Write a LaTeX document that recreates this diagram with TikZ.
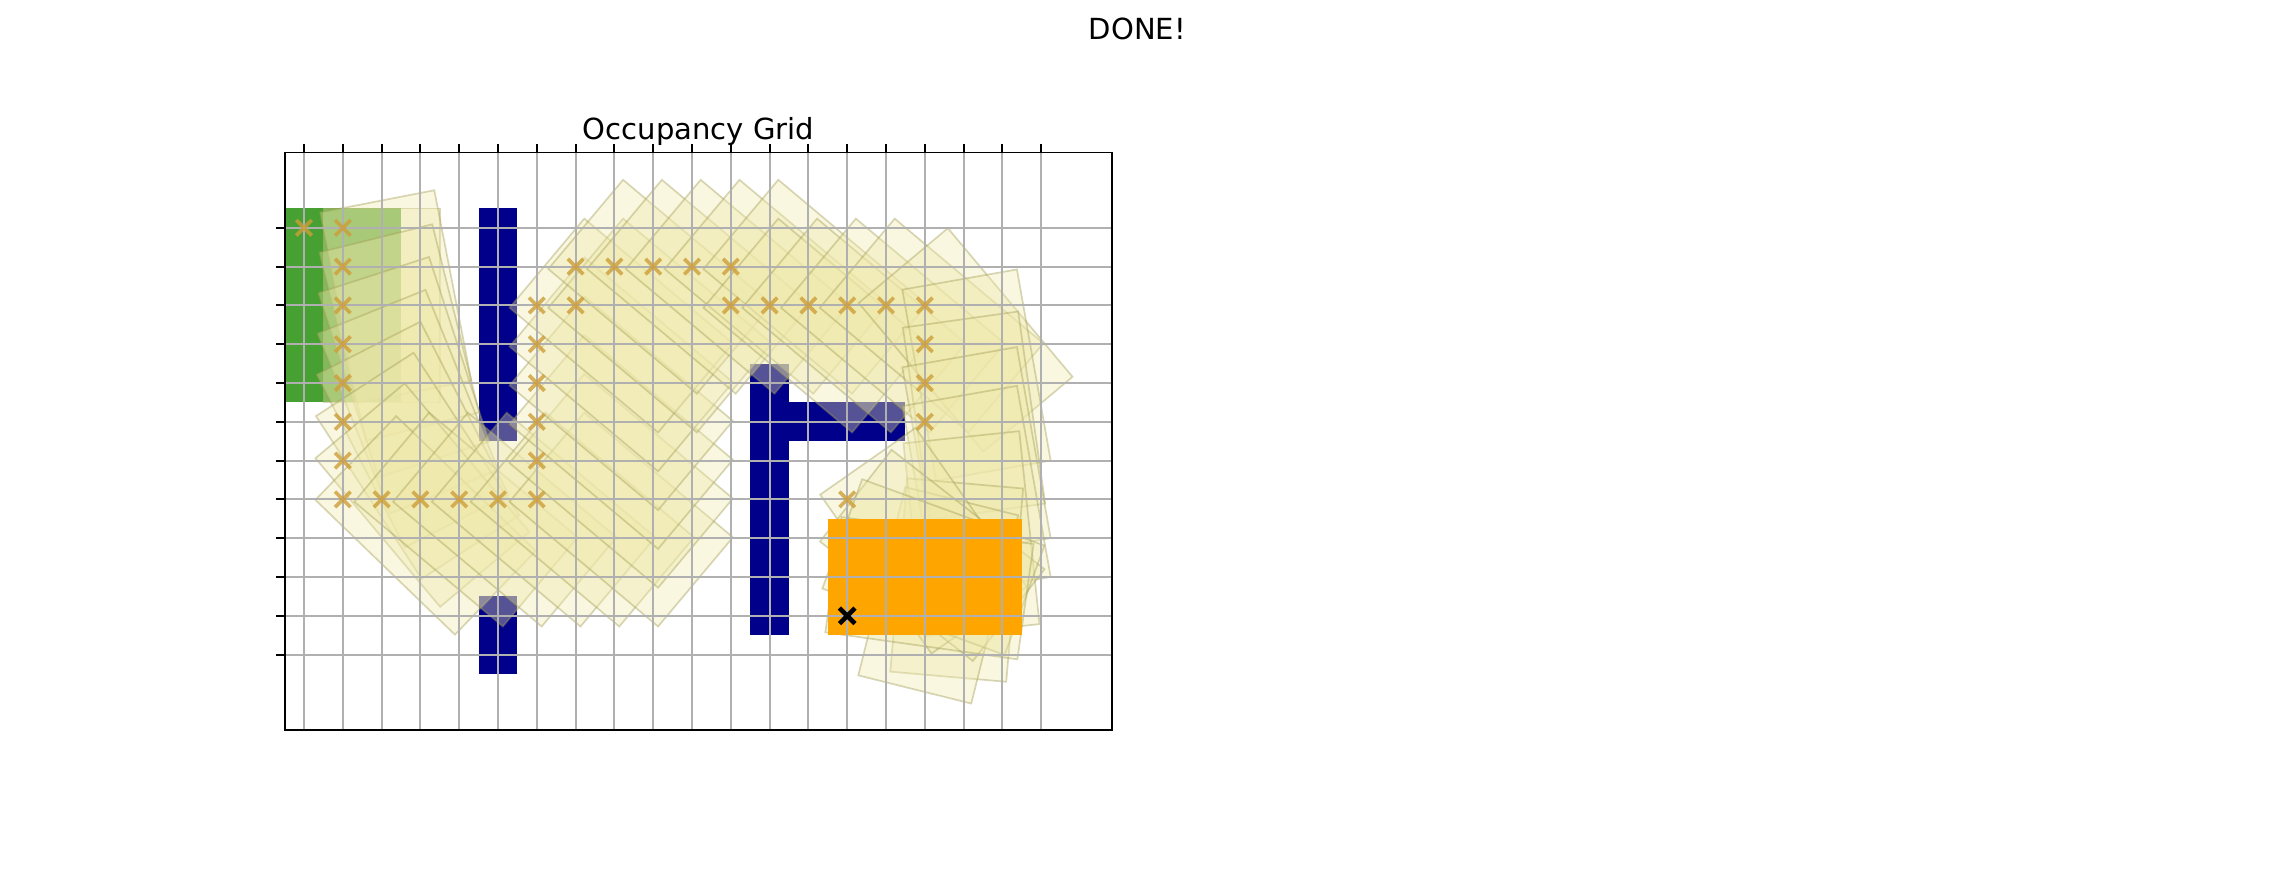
\documentclass[tikz,border=0pt]{standalone}
\usepackage{fontspec}
\setmainfont{DejaVu Sans}

\definecolor{wallblue}{RGB}{0,0,139}
\definecolor{startgreen}{RGB}{70,160,50}
\definecolor{goalorange}{RGB}{255,165,0}
\definecolor{footfill}{RGB}{238,232,170}
\definecolor{footedge}{RGB}{160,155,80}
\definecolor{pathgold}{RGB}{205,158,55}
\definecolor{gridgray}{RGB}{176,176,176}

\begin{document}
\begin{tikzpicture}[
    x=5.6315mm, y=5.6315mm,
    wall/.style={fill=wallblue},
    footprint/.style={fill=footfill,fill opacity=0.36,draw=footedge,draw opacity=0.4,line width=0.7pt},
    gridline/.style={gridgray,line width=0.8pt},
    tick/.style={black,line width=0.8pt},
    pathmark/.style={pathgold,opacity=0.8,line width=1.5pt},
    goalmark/.style={black,line width=1.9pt},
    label/.style={font=\fontsize{12}{14}\selectfont,anchor=base,inner sep=0pt},
]
\useasboundingbox (-7.835,-16.680) rectangle (50.799,5.871);

% === Titles ===
\node[label] (done) at (21.48,4.858) {DONE!};
\node[label] (title) at (10.165,2.281) {Occupancy Grid};

% === Obstacles ===
\fill[wall] (4.5,0.5) rectangle (5.5,-5.5);
\fill[wall] (4.5,-9.5) rectangle (5.5,-11.5);
\fill[wall] (11.5,-3.5) rectangle (12.5,-10.5);
\fill[wall] (12.5,-4.5) rectangle (15.5,-5.5);

% === Start pose ===
\fill[startgreen] (-0.5,0.5) rectangle (2.5,-4.5);

% === Robot footprints along the trajectory ===
\foreach \c/\r/\a in {
    1/0/-90, 1/0/-79, 1/1/-76, 1/2/-72, 1/3/-68, 1/4/-63, 1/5/-57, 1/6/-50, 1/7/-44,
    2/7/-40, 3/7/-40, 4/7/-40, 5/7/-40, 6/7/-40,
    6/6/-40, 6/5/-40, 6/4/-40, 6/3/-40, 6/2/-40,
    7/2/-40, 7/1/-40, 8/1/-40, 9/1/-40, 10/1/-40, 11/1/-40,
    11/2/-40, 12/2/-40, 13/2/-40, 14/2/-40, 15/2/-50, 16/2/-80,
    16/3/-82, 16/4/-80, 16/5/-80, 16/6/-84, 16/7/-95, 15.86/7.29/-104,
    14/7/-55, 14/8/-38, 14/9/-20, 14/10/-8}
    \draw[footprint,shift={(\c,-\r)},rotate=\a] (-0.5,-0.5) rectangle (4.5,2.5);

% === Goal pose ===
\fill[goalorange] (13.5,-7.5) rectangle (18.5,-10.5);

% === Grid ===
\foreach \c in {0,...,19}
    \draw[gridline] (\c,1.94) -- (\c,-12.94);
\foreach \r in {0,...,11}
    \draw[gridline] (-0.5,-\r) -- (20.83,-\r);

% === Grid path ===
\foreach \c/\r in {0/0, 1/0, 1/1, 1/2, 1/3, 1/4, 1/5, 1/6, 1/7,
    2/7, 3/7, 4/7, 5/7, 6/7, 6/6, 6/5, 6/4, 6/3, 6/2, 7/2,
    7/1, 8/1, 9/1, 10/1, 11/1, 11/2, 12/2, 13/2, 14/2, 15/2,
    16/2, 16/3, 16/4, 16/5, 14/7}
    \draw[pathmark] (\c-0.2,-\r-0.2) -- (\c+0.2,-\r+0.2)
        (\c-0.2,-\r+0.2) -- (\c+0.2,-\r-0.2);
\draw[goalmark] (13.8,-10.2) -- (14.2,-9.8) (13.8,-9.8) -- (14.2,-10.2);

% === Axes ===
\draw[tick] (-0.5,1.94) rectangle (20.83,-12.94);
\foreach \c in {0,...,19}
    \draw[tick] (\c,1.94) -- ++(0,0.2185);
\foreach \r in {0,...,11}
    \draw[tick] (-0.5,-\r) -- ++(-0.2185,0);
\end{tikzpicture}
\end{document}
